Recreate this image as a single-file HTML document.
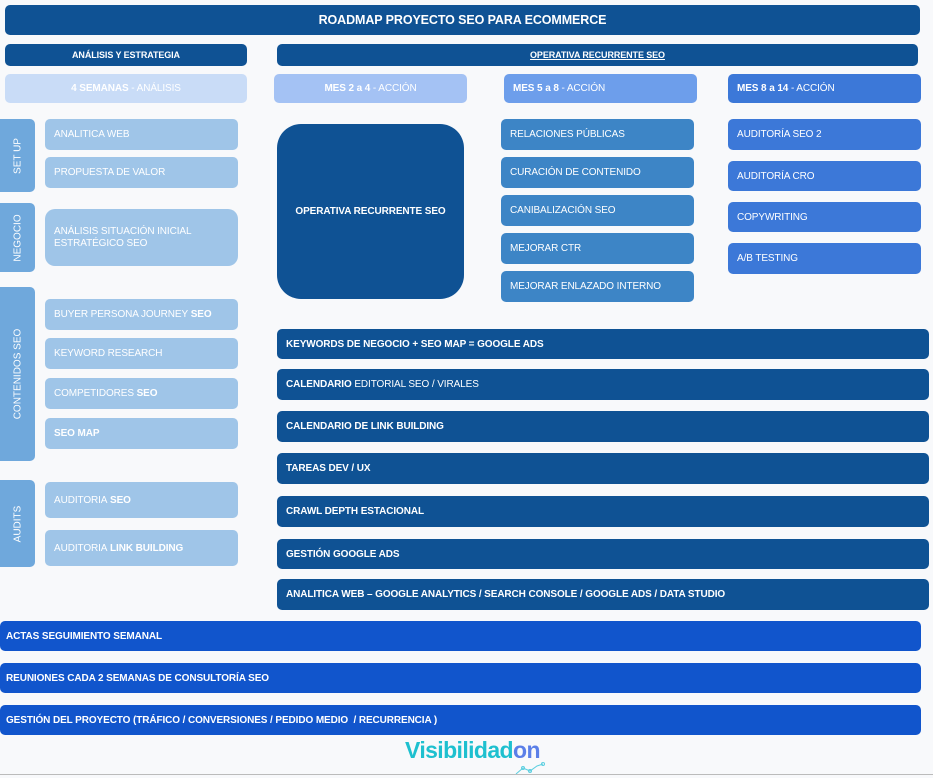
<!DOCTYPE html>
<html><head><meta charset="utf-8"><style>
body{margin:0;width:933px;height:778px;background:#f8f9fb;position:relative;overflow:hidden;font-family:"Liberation Sans",sans-serif;color:#fff}
.b{position:absolute;border-radius:5px;display:flex;align-items:center;box-sizing:border-box;font-size:10px;letter-spacing:-0.1px}
.c{justify-content:center}
.p{padding-left:9px}
.d{background:#0f5294}
.L{background:#9fc5e8}
.M5{background:#3d85c6}
.M8{background:#3c78d8}
.G{background:#1155cc}
.v{position:absolute;left:0;width:35px;border-radius:0 5px 5px 0;background:#6fa8dc}
.v span{position:absolute;left:50%;top:50%;transform:translate(-50%,-50%) rotate(-90deg);white-space:nowrap;font-size:10px}
b{font-weight:bold}
</style></head><body>
<div class="b d c" style="left:5px;top:5px;width:915px;height:30px;font-size:12.5px;font-weight:bold">ROADMAP PROYECTO SEO PARA ECOMMERCE</div>
<div class="b d c" style="left:5px;top:44px;width:242px;height:22px;font-size:9px;font-weight:bold">ANÁLISIS Y ESTRATEGIA</div>
<div class="b d c" style="left:277px;top:44px;width:641px;height:22px;font-size:9px;font-weight:bold;text-decoration:underline">OPERATIVA RECURRENTE SEO</div>

<div class="b c" style="left:5px;top:74px;width:242px;height:29px;background:#c9dcf7;font-size:10px"><b>4 SEMANAS</b>&nbsp;- ANÁLISIS</div>
<div class="b c" style="left:274px;top:74px;width:193px;height:29px;background:#a4c2f4;font-size:10px"><b>MES 2 a 4</b>&nbsp;- ACCIÓN</div>
<div class="b p" style="left:504px;top:74px;width:193px;height:29px;background:#6d9eeb;font-size:10px"><b>MES 5 a 8</b>&nbsp;- ACCIÓN</div>
<div class="b p" style="left:728px;top:74px;width:193px;height:29px;background:#3c78d8;font-size:10px"><b>MES 8 a 14</b>&nbsp;- ACCIÓN</div>

<div class="v" style="top:119px;height:73px"><span>SET UP</span></div>
<div class="v" style="top:203px;height:69px"><span>NEGOCIO</span></div>
<div class="v" style="top:287px;height:174px"><span>CONTENIDOS SEO</span></div>
<div class="v" style="top:480px;height:87px"><span>AUDITS</span></div>

<div class="b L p" style="left:45px;top:119px;width:193px;height:31px">ANALITICA WEB</div>
<div class="b L p" style="left:45px;top:157px;width:193px;height:31px">PROPUESTA DE VALOR</div>
<div class="b L p" style="left:45px;top:209px;width:193px;height:57px;border-radius:10px;line-height:12px">ANÁLISIS SITUACIÓN INICIAL<br>ESTRATÉGICO SEO</div>
<div class="b L p" style="left:45px;top:299px;width:193px;height:31px">BUYER PERSONA JOURNEY&nbsp;<b>SEO</b></div>
<div class="b L p" style="left:45px;top:338px;width:193px;height:31px">KEYWORD RESEARCH</div>
<div class="b L p" style="left:45px;top:378px;width:193px;height:31px">COMPETIDORES&nbsp;<b>SEO</b></div>
<div class="b L p" style="left:45px;top:418px;width:193px;height:31px"><b>SEO MAP</b></div>
<div class="b L p" style="left:45px;top:482px;width:193px;height:36px">AUDITORIA&nbsp;<b>SEO</b></div>
<div class="b L p" style="left:45px;top:530px;width:193px;height:36px">AUDITORIA&nbsp;<b>LINK BUILDING</b></div>

<div class="b d c" style="left:277px;top:124px;width:187px;height:175px;border-radius:24px;font-weight:bold">OPERATIVA RECURRENTE SEO</div>

<div class="b M5 p" style="left:501px;top:119px;width:193px;height:31px">RELACIONES PÚBLICAS</div>
<div class="b M5 p" style="left:501px;top:157px;width:193px;height:31px">CURACIÓN DE CONTENIDO</div>
<div class="b M5 p" style="left:501px;top:195px;width:193px;height:31px">CANIBALIZACIÓN SEO</div>
<div class="b M5 p" style="left:501px;top:233px;width:193px;height:31px">MEJORAR CTR</div>
<div class="b M5 p" style="left:501px;top:271px;width:193px;height:31px">MEJORAR ENLAZADO INTERNO</div>

<div class="b M8 p" style="left:728px;top:119px;width:193px;height:31px">AUDITORÍA SEO 2</div>
<div class="b M8 p" style="left:728px;top:161px;width:193px;height:30px">AUDITORÍA CRO</div>
<div class="b M8 p" style="left:728px;top:202px;width:193px;height:30px">COPYWRITING</div>
<div class="b M8 p" style="left:728px;top:243px;width:193px;height:31px">A/B TESTING</div>

<div class="b d p" style="left:277px;top:329px;width:652px;height:30px;font-weight:bold">KEYWORDS DE NEGOCIO + SEO MAP = GOOGLE ADS</div>
<div class="b d p" style="left:277px;top:369px;width:652px;height:31px"><b>CALENDARIO</b>&nbsp;EDITORIAL SEO / VIRALES</div>
<div class="b d p" style="left:277px;top:411px;width:652px;height:31px;font-weight:bold">CALENDARIO DE LINK BUILDING</div>
<div class="b d p" style="left:277px;top:453px;width:652px;height:31px;font-weight:bold">TAREAS DEV / UX</div>
<div class="b d p" style="left:277px;top:496px;width:652px;height:31px;font-weight:bold">CRAWL DEPTH ESTACIONAL</div>
<div class="b d p" style="left:277px;top:539px;width:652px;height:30px;font-weight:bold">GESTIÓN GOOGLE ADS</div>
<div class="b d p" style="left:277px;top:579px;width:652px;height:31px;font-weight:bold">ANALITICA WEB – GOOGLE ANALYTICS / SEARCH CONSOLE / GOOGLE ADS / DATA STUDIO</div>

<div class="b G p" style="left:0;top:621px;width:921px;height:30px;font-weight:bold;padding-left:6px">ACTAS SEGUIMIENTO SEMANAL</div>
<div class="b G p" style="left:0;top:663px;width:921px;height:30px;font-weight:bold;padding-left:6px">REUNIONES CADA 2 SEMANAS DE CONSULTORÍA SEO</div>
<div class="b G p" style="left:0;top:705px;width:921px;height:30px;font-weight:bold;padding-left:6px">GESTIÓN DEL PROYECTO (TRÁFICO / CONVERSIONES / PEDIDO MEDIO &nbsp;/ RECURRENCIA )</div>

<div style="position:absolute;left:405px;top:737px;font-size:23px;font-weight:bold;color:#1ec0cf;letter-spacing:-0.6px">Visibilidad<span style="color:#5b7fe8">on</span></div>
<svg style="position:absolute;left:514px;top:762px" width="32" height="14"><polyline points="2,12 9,6 16,9 23,4 29,2" fill="none" stroke="#5ccfe0" stroke-width="1"/><circle cx="9" cy="6" r="1.5" fill="none" stroke="#5ccfe0"/><circle cx="16" cy="9" r="1.5" fill="none" stroke="#5ccfe0"/><circle cx="29" cy="2" r="1.5" fill="none" stroke="#5ccfe0"/></svg>
<div style="position:absolute;left:0;top:774px;width:933px;height:1px;background:#bbb"></div>
</body></html>
